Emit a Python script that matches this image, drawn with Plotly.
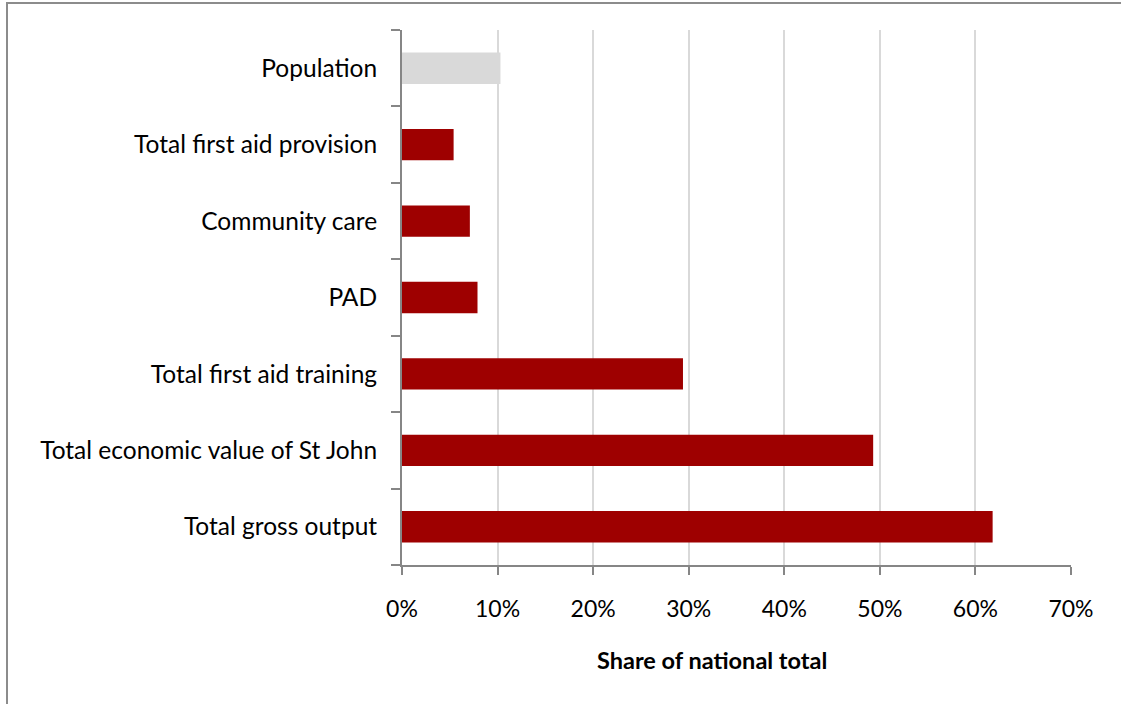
import plotly.graph_objects as go

# Share of national total, listed bottom-to-top as plotted
categories = [
    "Total gross output",
    "Total economic value of St John",
    "Total first aid training",
    "PAD",
    "Community care",
    "Total first aid provision",
    "Population",
]
shares = [0.618, 0.493, 0.294, 0.079, 0.071, 0.054, 0.103]

x_ticks = [0, 0.1, 0.2, 0.3, 0.4, 0.5, 0.6, 0.7]

DARK_RED = "#9E0000"
LIGHT_GREY = "#D9D9D9"
bar_colors = [LIGHT_GREY if c == "Population" else DARK_RED for c in categories]

FONT = "Lato"

fig = go.Figure(
    go.Bar(
        x=shares,
        y=categories,
        orientation="h",
        marker=dict(color=bar_colors, line=dict(width=0)),
        hoverinfo="skip",
    )
)

ML, MR, MT, MB = 402, 50, 30, 139
W, H = 1121, 704
pw = W - ML - MR
ph = H - MT - MB

fig.update_layout(
    width=W,
    height=H,
    margin=dict(l=ML, r=MR, t=MT, b=MB),
    paper_bgcolor="white",
    plot_bgcolor="white",
    bargap=0.59,
    showlegend=False,
    font=dict(family=FONT, size=24, color="#000000"),
)

fig.update_xaxes(
    range=[0, 0.7],
    tickvals=x_ticks,
    tickformat=".0%",
    showgrid=True,
    gridcolor="#D9D9D9",
    gridwidth=2,
    zeroline=False,
    showline=True,
    linecolor="#868686",
    linewidth=2,
    ticks="outside",
    ticklen=8,
    tickwidth=2,
    tickcolor="#868686",
    ticklabelstandoff=14,
    tickfont=dict(family=FONT, size=23),
)

fig.update_yaxes(
    categoryorder="array",
    categoryarray=categories,
    showgrid=False,
    zeroline=False,
    showline=True,
    linecolor="#868686",
    linewidth=2,
    ticks="outside",
    tickson="boundaries",
    ticklen=9,
    tickwidth=2,
    tickcolor="#868686",
    ticklabelstandoff=18,
    tickfont=dict(family=FONT, size=24.5),
)

# Axis title, set slightly left of the plot centre
fig.add_annotation(
    text="<b>Share of national total</b>",
    xref="paper",
    yref="paper",
    x=(712 - ML) / pw,
    y=(MT + ph - 660) / ph,
    xanchor="center",
    yanchor="middle",
    showarrow=False,
    font=dict(family=FONT, size=23.5, color="#000000"),
)

# Chart-area frame
fig.add_shape(
    type="rect",
    xref="paper",
    yref="paper",
    x0=(7 - ML) / pw,
    x1=(W + 10 - ML) / pw,
    y0=(MT + ph - (H + 10)) / ph,
    y1=(MT + ph - 3) / ph,
    line=dict(color="#8C8C8C", width=2),
    fillcolor="rgba(0,0,0,0)",
    layer="below",
)

fig.write_html("out.html")
